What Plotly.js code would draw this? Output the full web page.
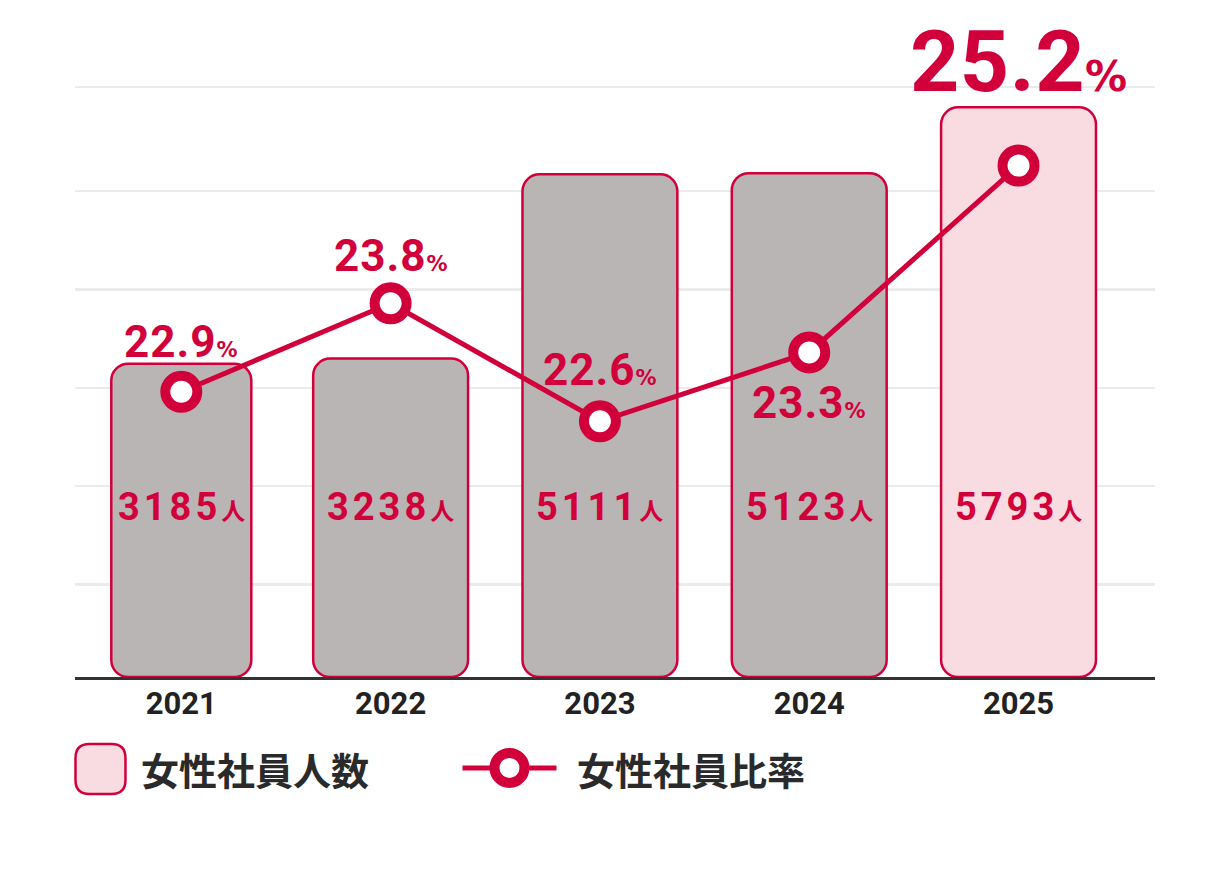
<!DOCTYPE html>
<html>
<head>
<meta charset="utf-8">
<script src="https://cdn.plot.ly/plotly-3.0.1.min.js"></script>
<style>
html,body{margin:0;padding:0;background:#fff;}
#chart{width:1229px;height:869px;}
</style>
</head>
<body>
<div id="chart"></div>
<script>
// ---- data ----
const years = ['2021', '2022', '2023', '2024', '2025'];
const womenCount = [3185, 3238, 5111, 5123, 5793];
const womenRatio = [22.9, 23.8, 22.6, 23.3, 25.2];
const countUnit = '人';
const ratioUnit = '%';
const legendCount = '女性社員人数';
const legendRatio = '女性社員比率';

// ---- style ----
const RED = '#d1003b';
const barFills = ['#bab5b5', '#bab5b5', '#bab5b5', '#bab5b5', '#f8dce1'];
const barWidths = [0.669, 0.74, 0.74, 0.74, 0.74];
const labelShift = [50, 47, 51, -51, 104];
const labelSize = [44, 44, 44, 44, 86];
const pctSize = [21, 21, 21, 21, 42];
const labelTrack = [1, 1, 1, 1, 0.5];
const NUMFONT = 'Roboto, "Noto Sans CJK JP", sans-serif';
const PCTFONT = '"DejaVu Sans", sans-serif';
const JPFONT = '"Noto Sans CJK JP", sans-serif';

const bars = {
  type: 'bar', x: years, y: womenCount, base: womenCount.map(() => 0),
  width: barWidths, hoverinfo: 'skip',
  marker: {color: barFills, opacity: 1, line: {color: RED, width: 2.5}, cornerradius: 17}
};
const line = {
  type: 'scatter', mode: 'lines+markers', x: years, y: womenRatio, yaxis: 'y2',
  line: {color: RED, width: 5},
  marker: {size: 32, color: '#ffffff', line: {color: RED, width: 10}},
  cliponaxis: false, hoverinfo: 'skip'
};

const annotations = [];
years.forEach((yr, i) => {
  annotations.push({
    x: i, y: womenRatio[i], xref: 'x', yref: 'y2', yshift: labelShift[i],
    showarrow: false, xanchor: 'center', yanchor: 'middle',
    text: '<span style="letter-spacing:' + labelTrack[i] + 'px">' + womenRatio[i].toFixed(1) + '</span>' +
          '<span style="font-size:' + pctSize[i] + 'px;font-family:' + PCTFONT.replace(/"/g, "'") + '">' + ratioUnit + '</span>',
    font: {family: NUMFONT, size: labelSize[i], color: RED, weight: 'bold'}
  });
  annotations.push({
    x: i, y: 0.286, xref: 'x', yref: 'paper',
    showarrow: false, xanchor: 'center', yanchor: 'middle',
    text: '<span style="letter-spacing:4px">' + womenCount[i] + '</span><span style="font-size:24px">' + countUnit + '</span>',
    font: {family: NUMFONT, size: 38, color: RED, weight: 'bold'}
  });
});
annotations.push({
  x: 0.0595, y: -0.154, xref: 'paper', yref: 'paper', xanchor: 'left', yanchor: 'middle',
  showarrow: false, text: legendCount,
  font: {family: JPFONT, size: 38, color: '#2a2a2a', weight: 'bold'}
});
annotations.push({
  x: 0.4625, y: -0.154, xref: 'paper', yref: 'paper', xanchor: 'left', yanchor: 'middle',
  showarrow: false, text: legendRatio,
  font: {family: JPFONT, size: 38, color: '#2a2a2a', weight: 'bold'}
});

const shapes = [
  { // legend: rounded box
    type: 'path', xref: 'paper', yref: 'paper', xsizemode: 'pixel', ysizemode: 'pixel',
    xanchor: 0.0236, yanchor: -0.1545,
    path: 'M -25,-11 Q -25,-25 -11,-25 L 11,-25 Q 25,-25 25,-11 L 25,11 Q 25,25 11,25 L -11,25 Q -25,25 -25,11 Z',
    fillcolor: '#f8dce1', line: {color: RED, width: 2.5}
  },
  { // legend: line
    type: 'line', xref: 'paper', yref: 'paper', xsizemode: 'pixel', ysizemode: 'pixel',
    xanchor: 0.4023, yanchor: -0.1528, x0: -47, x1: 47, y0: 0, y1: 0,
    line: {color: RED, width: 5}
  },
  { // legend: marker
    type: 'circle', xref: 'paper', yref: 'paper', xsizemode: 'pixel', ysizemode: 'pixel',
    xanchor: 0.4023, yanchor: -0.1528, x0: -15, x1: 15, y0: -15, y1: 15,
    fillcolor: '#ffffff', line: {color: RED, width: 10}
  }
];

const layout = {
  width: 1229, height: 869,
  margin: {l: 75, r: 74, t: 82, b: 192, pad: 0},
  paper_bgcolor: '#ffffff', plot_bgcolor: '#ffffff',
  showlegend: false, barmode: 'overlay',
  xaxis: {
    type: 'category', range: [-0.5079, 4.652], showgrid: false, zeroline: false,
    showline: true, linecolor: '#333333', linewidth: 2.5, ticks: '',
    ticklabelstandoff: -3,
    tickfont: {family: NUMFONT, size: 31, color: '#222222', weight: 'bold'}, fixedrange: true
  },
  yaxis: {
    range: [0, 6050], tickvals: [940, 1940, 2940, 3940, 4940, 6000],
    showticklabels: false, ticks: '', gridcolor: '#ebebeb', gridwidth: 2.5,
    zeroline: false, showline: false, fixedrange: true
  },
  yaxis2: {
    range: [20, 26.05], overlaying: 'y', side: 'right', showgrid: false,
    showticklabels: false, zeroline: false, showline: false, ticks: '', fixedrange: true
  },
  annotations: annotations,
  shapes: shapes
};

Plotly.newPlot('chart', [bars, line], layout, {displayModeBar: false, staticPlot: true});
</script>
</body>
</html>
